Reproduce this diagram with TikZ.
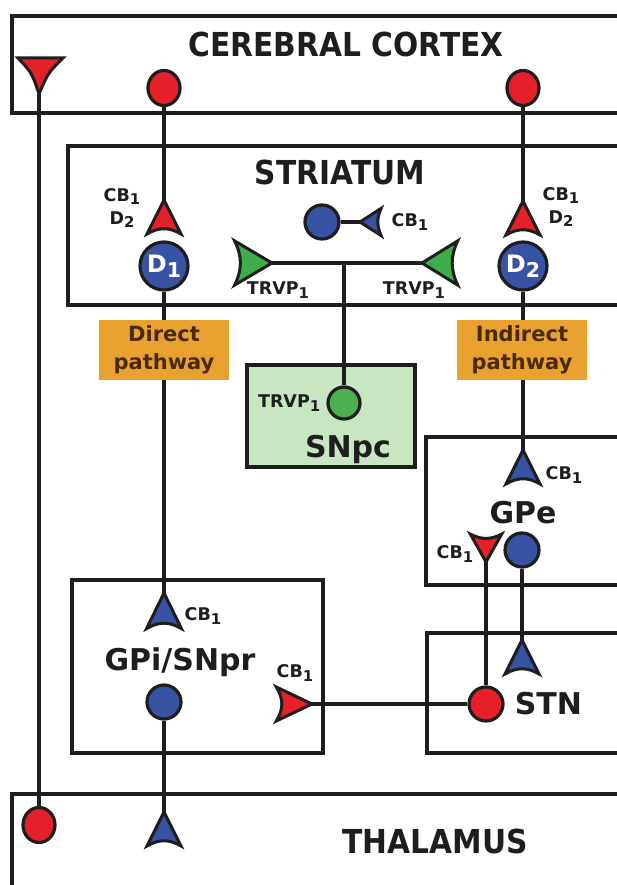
\documentclass[tikz,border=0pt]{standalone}
\usepackage{fontspec}
\setmainfont{DejaVu Sans}
\newfontfamily\titlefont{DejaVu Sans}[FakeStretch=0.9]
\usepackage{graphicx}
\usepackage{tikz}
\usetikzlibrary{positioning,shapes.geometric}
\usepackage{xcolor}
\definecolor{tred}{HTML}{E5202A}
\definecolor{tblue}{HTML}{3853A4}
\definecolor{tgreen}{HTML}{3DAE49}
\definecolor{snpcgreen}{HTML}{4CAF50}
\definecolor{snpcbg}{HTML}{C9E6C3}
\definecolor{torange}{HTML}{E9A130}
\definecolor{tbrown}{HTML}{4B2A0C}
\definecolor{outline}{HTML}{1E1E1E}
\newcommand{\subn}[1]{\raisebox{-0.35ex}{\scalebox{0.85}{#1}}}

\begin{document}
\begin{tikzpicture}[
  x=1pt, y=-1pt,
  regbox/.style={draw=outline, line width=3.8pt},
  wire/.style={draw=outline, line width=3.5pt},
  neuron/.style={
    circle,
    draw=outline,
    line width=3.2pt,
    inner sep=0pt,
    minimum size=34
  },
  oval/.style={
    ellipse,
    draw=outline,
    fill=tred,
    line width=3.2pt,
    inner sep=0pt,
    minimum width=32,
    minimum height=35
  },
  title/.style={font=\titlefont\bfseries\fontsize{33}{33}\selectfont, text=outline, inner sep=0pt},
  region/.style={font=\bfseries\fontsize{30}{30}\selectfont, text=outline, inner sep=0pt},
  lbl/.style={font=\bfseries\fontsize{17.5}{23}\selectfont, text=outline, inner sep=0pt, align=center},
  pathbox/.style={
    fill=torange,
    text=tbrown,
    font=\bfseries\fontsize{21}{28}\selectfont,
    align=center,
    minimum width=130,
    minimum height=60,
    inner sep=0pt
  },
  term/.pic={
    \filldraw[fill=#1, draw=outline, line width=3pt]
      (0,0) -- (-17,34)
      .. controls (-5,27) and (5,27) .. (17,34)
      -- cycle;
    \coordinate (-tip) at (0,0);
  }
]

  \useasboundingbox (0,0) rectangle (617,885);
  \fill[white] (0,0) rectangle (617,885);
  \clip (0,0) rectangle (617,885);

  % --- Region boxes ---
  \draw[regbox] (12,16) rectangle (640,113);
  \draw[regbox] (68,146) rectangle (640,305);
  \draw[regbox, fill=snpcbg] (247,365) rectangle (415,467);
  \draw[regbox] (426,437) rectangle (640,585);
  \draw[regbox] (72,580) rectangle (323,753);
  \draw[regbox] (427,633) rectangle (640,753);
  \draw[regbox] (12,794) rectangle (640,900);

  % --- Region titles ---
  \node[title, anchor=base] (ctxlbl) at (346,57) {CEREBRAL CORTEX};
  \node[title, anchor=base] (strlbl) at (340,185) {STRIATUM};
  \node[title, anchor=base] (thallbl) at (435,853) {THALAMUS};
  \node[region, anchor=base] (snpclbl) at (348,457) {SNpc};
  \node[region, anchor=base] (gpelbl) at (523,523) {GPe};
  \node[region, anchor=base] (gpilbl) at (180,670) {GPi/SNpr};

  % --- Cortex ---
  \node[oval] (ctxl) at (164,88) {};
  \node[oval] (ctxr) at (523,88) {};
  \filldraw[fill=tred, draw=outline, line width=3pt]
    (18,58) -- (63,58) .. controls (48,73) .. (39,94) .. controls (32,73) .. cycle;
  \coordinate (ctxtip) at (39,94);

  % --- Striatum ---
  \pic (d1syn) at (164,200) {term=tred};
  \pic (d2syn) at (523,201) {term=tred};
  \node[neuron, fill=tblue, minimum size=48] (d1) at (164,266)
    {\color{white}\bfseries\fontsize{24}{24}\selectfont D\subn{1}};
  \node[neuron, fill=tblue, minimum size=48] (d2) at (523,266)
    {\color{white}\bfseries\fontsize{24}{24}\selectfont D\subn{2}};
  \node[lbl] (d1rec) at (122,208) {CB\subn{1}\\D\subn{2}};
  \node[lbl] (d2rec) at (561,207) {CB\subn{1}\\D\subn{2}};

  \node[neuron, fill=tblue] (cbn) at (322,222) {};
  \pic[rotate=90, xscale=0.8, yscale=0.62] (cbsyn) at (360,222) {term=tblue};
  \node[lbl] (cbrec) at (410,222) {CB\subn{1}};

  \pic[rotate=-90, xscale=1.3, yscale=1.1] (trvl) at (272,263) {term=tgreen};
  \pic[rotate=90, xscale=1.3, yscale=1.05] (trvr) at (422,263) {term=tgreen};
  \node[lbl] (trvllbl) at (278,290) {TRVP\subn{1}};
  \node[lbl] (trvrlbl) at (414,290) {TRVP\subn{1}};

  % --- SNpc ---
  \node[neuron, fill=snpcgreen, minimum size=32] (snpcn) at (344,403) {};
  \node[lbl, left=6pt of snpcn] (snpcrec) {TRVP\subn{1}};

  % --- GPe ---
  \pic (gpesyn) at (523,450) {term=tblue};
  \node[lbl] (gperec) at (564,475) {CB\subn{1}};
  \pic[rotate=180, xscale=0.92, yscale=0.82] (gpered) at (486,562) {term=tred};
  \node[lbl] (gperec2) at (455,554) {CB\subn{1}};
  \node[neuron, fill=tblue] (gpen) at (522,550) {};

  % --- STN ---
  \node[neuron, fill=tred] (stnn) at (486,704) {};
  \node[region, right=10pt of stnn] (stnlbl) {STN};
  \pic (stnsyn) at (522,640) {term=tblue};

  % --- GPi/SNpr ---
  \pic[xscale=1.03, yscale=1.05] (gpisyn) at (164,593) {term=tblue};
  \node[lbl] (gpirec) at (203,616) {CB\subn{1}};
  \node[neuron, fill=tblue] (gpin) at (164,702) {};
  \pic[rotate=-90, yscale=1.05] (gpired) at (312,704) {term=tred};
  \node[lbl] (gpirec2) at (295,673) {CB\subn{1}};

  % --- Thalamus ---
  \node[oval] (thred) at (39,825) {};
  \pic (thsyn) at (164,812) {term=tblue};

  % Connections
  \draw[wire] (ctxtip) -- (thred);
  \draw[wire] (ctxl) -- (d1syn-tip);
  \draw[wire] (ctxr) -- (d2syn-tip);
  \draw[wire] (d1) -- (gpisyn-tip);
  \draw[wire] (d2) -- (gpesyn-tip);
  \draw[wire] (cbn) -- (cbsyn-tip);
  \draw[wire] (trvl-tip) -- (trvr-tip);
  \draw[wire] (snpcn |- trvl-tip) -- (snpcn);
  \draw[wire] (gpered-tip) -- (stnn);
  \draw[wire] (gpen) -- (stnsyn-tip);
  \draw[wire] (stnn) -- (gpired-tip);
  \draw[wire] (gpin) -- (thsyn-tip);

  % Pathway tags
  \node[pathbox] (direct) at (164,350) {Direct\\pathway};
  \node[pathbox] (indirect) at (522,350) {Indirect\\pathway};

\end{tikzpicture}
\end{document}
